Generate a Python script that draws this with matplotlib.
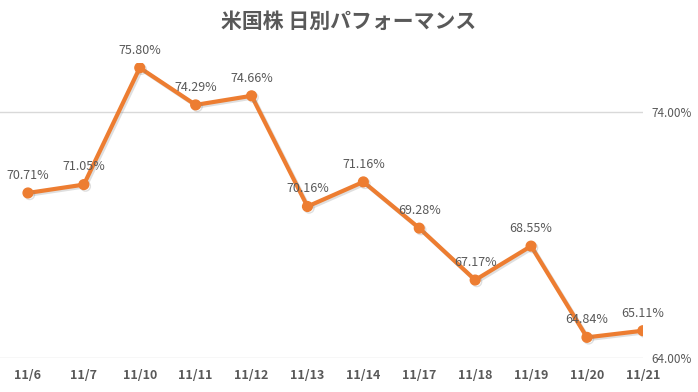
import matplotlib
matplotlib.use('Agg')
import matplotlib.pyplot as plt
import matplotlib.patheffects as pe

plt.rcParams['font.family'] = ['Noto Sans CJK JP', 'DejaVu Sans']

# データ
dates = ["11/6", "11/7", "11/10", "11/11", "11/12", "11/13",
         "11/14", "11/17", "11/18", "11/19", "11/20", "11/21"]
performance = [70.71, 71.05, 75.80, 74.29, 74.66, 70.16,
               71.16, 69.28, 67.17, 68.55, 64.84, 65.11]
y_ticks = [64, 74]

ORANGE = '#ED7D31'
GRAY = '#595959'

fig = plt.figure(figsize=(6.98, 3.92), dpi=100)
ax = fig.add_axes([0.0, 0.0867, 0.921, 0.753])

x = list(range(len(dates)))
ax.plot(x, performance, color=ORANGE, linewidth=3, marker='o', markersize=7,
        zorder=3,
        path_effects=[pe.SimpleLineShadow(offset=(1.2, -1.2), shadow_color='gray', alpha=0.25),
                      pe.Normal()])

for xi, v in zip(x, performance):
    ax.annotate(f"{v:.2f}%", (xi, v), xytext=(0, 8), textcoords='offset points',
                ha='center', va='bottom', fontsize=9, color=GRAY)

ax.set_xlim(-0.5, len(dates) - 1)
ax.set_ylim(64, 76)
ax.set_xticks(x)
ax.set_xticklabels(dates, fontsize=9, fontweight='bold', color=GRAY)
ax.set_yticks(y_ticks)
ax.set_yticklabels([f"{t:.2f}%" for t in y_ticks], fontsize=8.5, color=GRAY)
ax.yaxis.tick_right()
ax.tick_params(axis='both', length=0)
ax.tick_params(axis='y', pad=6)
ax.tick_params(axis='x', pad=8)
ax.grid(axis='y', color='#D9D9D9', linewidth=1)
for s in ax.spines.values():
    s.set_visible(False)
ax.set_axisbelow(True)

fig.text(0.5, 0.945, "米国株 日別パフォーマンス", ha='center', va='center',
         fontsize=15, fontweight='bold', color=GRAY)

plt.savefig("out.png", dpi=100)
plt.close()
